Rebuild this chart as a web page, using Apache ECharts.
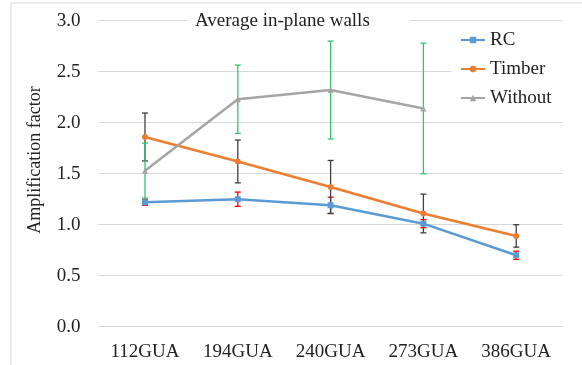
<!DOCTYPE html>
<html><head><meta charset="utf-8">
<script src="https://cdn.jsdelivr.net/npm/echarts@6/dist/echarts.min.js"></script>
<style>html,body{margin:0;padding:0;background:#fff}#c{width:582px;height:365px}</style>
</head><body><div id="c"></div>
<script>
const categories = ['112GUA','194GUA','240GUA','273GUA','386GUA'];
const rcValues = [1.22, 1.25, 1.19, 1.01, 0.70];
const rcErr = [0.03, 0.07, 0.08, 0.04, 0.04];
const timberValues = [1.86, 1.62, 1.37, 1.11, 0.89];
const timberErr = [0.235, 0.21, 0.26, 0.19, 0.11];
const withoutValues = [1.53, 2.23, 2.32, 2.14, null];
const withoutErr = [0.27, 0.335, 0.48, 0.64, null];
const yTicks = [0, 0.5, 1.0, 1.5, 2.0, 2.5, 3.0];

const FONT = '"Liberation Serif", "DejaVu Serif", serif';
const chart = echarts.init(document.getElementById('c'));

function errSeries(name, vals, errs, color) {
  const data = [];
  vals.forEach((v, i) => { if (v != null && errs[i] != null) data.push([i, v - errs[i], v + errs[i]]); });
  return {
    type: 'custom', name: name, z: 3, silent: true,
    renderItem: function (params, api) {
      const lo = api.coord([api.value(0), api.value(1)]);
      const hi = api.coord([api.value(0), api.value(2)]);
      const w = 3;
      const st = { stroke: color, lineWidth: 1.3 };
      return { type: 'group', children: [
        { type: 'line', shape: { x1: lo[0], y1: lo[1], x2: hi[0], y2: hi[1] }, style: st },
        { type: 'line', shape: { x1: lo[0]-w, y1: lo[1], x2: lo[0]+w, y2: lo[1] }, style: st },
        { type: 'line', shape: { x1: hi[0]-w, y1: hi[1], x2: hi[0]+w, y2: hi[1] }, style: st }
      ]};
    },
    data: data
  };
}

chart.setOption({
  animation: false,
  backgroundColor: '#fff',
  grid: { left: 98.6, right: 19.4, top: 20.7, bottom: 38.3 },
  title: {
    text: 'Average in-plane walls', left: 187, top: 9,
    backgroundColor: '#fff', padding: [3, 40, 3, 8],
    textStyle: { fontFamily: FONT, fontSize: 19, fontWeight: 'normal', color: '#222' }
  },
  legend: {
    orient: 'vertical', left: 452, top: 28,
    backgroundColor: '#fff', padding: [2, 20, 6, 8],
    itemWidth: 24, itemHeight: 8, itemGap: 9,
    textStyle: { fontFamily: FONT, fontSize: 19, color: '#222', lineHeight: 20 },
    data: ['RC', 'Timber', 'Without']
  },
  xAxis: {
    type: 'category', data: categories, boundaryGap: true,
    axisLine: { show: false }, axisTick: { show: false },
    axisLabel: { fontFamily: FONT, fontSize: 19, color: '#222', margin: 16 }
  },
  yAxis: {
    type: 'value', min: 0, max: 3, interval: 0.5,
    axisLine: { show: false }, axisTick: { show: false },
    splitLine: { lineStyle: { color: '#D9D9D9', width: 1 } },
    axisLabel: { fontFamily: FONT, fontSize: 19, color: '#222', margin: 18,
      formatter: v => yTicks.indexOf(v) >= 0 ? v.toFixed(1) : '' }
  },
  graphic: [
    { type: 'line', shape: { x1: 11, y1: 3, x2: 582, y2: 3 }, style: { stroke: '#D9D9D9', lineWidth: 1 }, z: 100 },
    { type: 'line', shape: { x1: 11, y1: 3, x2: 11, y2: 365 }, style: { stroke: '#D9D9D9', lineWidth: 1 }, z: 100 },
    { type: 'text', x: 35, y: 160, rotation: Math.PI / 2,
      style: { text: 'Amplification factor', font: '18px ' + FONT, fill: '#222', textAlign: 'center', textVerticalAlign: 'middle' } }
  ],
  series: [
    { name: 'RC', type: 'line', data: rcValues, symbol: 'rect', symbolSize: 6, z: 4,
      itemStyle: { color: '#5B9BD5' }, lineStyle: { color: '#5B9BD5', width: 2.5 } },
    { name: 'Timber', type: 'line', data: timberValues, symbol: 'circle', symbolSize: 6, z: 4,
      itemStyle: { color: '#ED7D31' }, lineStyle: { color: '#ED7D31', width: 2.5 } },
    { name: 'Without', type: 'line', data: withoutValues, symbol: 'triangle', symbolSize: 6, z: 4,
      itemStyle: { color: '#A5A5A5' }, lineStyle: { color: '#A5A5A5', width: 2.5 } },
    errSeries('errRC', rcValues, rcErr, '#FF0000'),
    errSeries('errTimber', timberValues, timberErr, '#404040'),
    errSeries('errWithout', withoutValues, withoutErr, '#33C46A')
  ]
});
</script></body></html>
